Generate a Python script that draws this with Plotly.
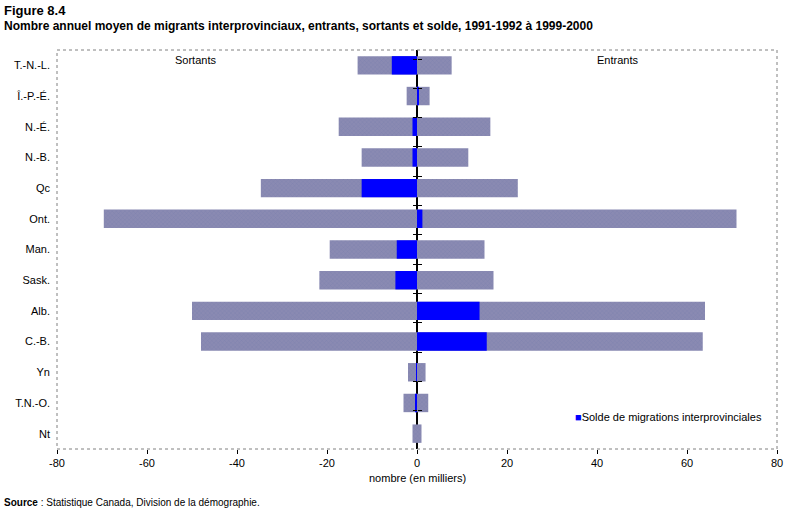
import plotly.graph_objects as go

# provinces, top to bottom as in the figure
provinces = ["T.-N.-L.", "Î.-P.-É.", "N.-É.", "N.-B.", "Qc", "Ont.", "Man.",
             "Sask.", "Alb.", "C.-B.", "Yn", "T.N.-O.", "Nt"]

# average annual migrants, thousands
sortants = [-13.2, -2.3, -17.4, -12.3, -34.7, -69.6, -19.4, -21.7, -50.0, -48.0, -2.0, -3.0, -1.0]
entrants = [7.7, 2.8, 16.3, 11.4, 22.4, 71.0, 15.0, 17.0, 64.0, 63.5, 1.9, 2.5, 1.0]
solde = [-5.6, 0.3, -1.0, -1.0, -12.3, 1.2, -4.5, -4.8, 13.9, 15.5, -0.1, -0.4, 0.0]

x_ticks = [-80, -60, -40, -20, 0, 20, 40, 60, 80]
x_tick_labels = ["-80", "-60", "-40", "-20", "0", "20", "40", "60", "80"]

FONT = "Liberation Sans, Arial, sans-serif"
grey_fill = "#8a8ab2"
pattern = dict(shape="x", size=3, solidity=0.25, fgcolor="#6f78a8", bgcolor=grey_fill)

fig = go.Figure()

for vals in [sortants, entrants]:
    fig.add_trace(go.Bar(
        y=provinces, x=vals, orientation="h", width=0.6,
        marker=dict(color=grey_fill, line_width=0, pattern=pattern),
        showlegend=False, hoverinfo="x+y",
    ))

fig.add_trace(go.Bar(
    y=provinces, x=solde, orientation="h", width=0.6,
    marker=dict(color="#0000ff", line_width=0),
    name="Solde de migrations interprovinciales", showlegend=False,
))

# invisible traces so the tick-mark axes at zero know the categories
for ax in ["y2", "y3"]:
    fig.add_trace(go.Scatter(
        y=provinces, x=[0] * len(provinces), yaxis=ax, mode="markers",
        marker=dict(opacity=0), showlegend=False, hoverinfo="skip",
    ))

cat_axis = dict(type="category", categoryorder="array", categoryarray=provinces,
                autorange="reversed")
tick_axis = dict(**cat_axis, overlaying="y", anchor="free", position=0.5,
                 showticklabels=False, ticks="outside", ticklen=4,
                 tickson="boundaries", tickcolor="black", showgrid=False,
                 showline=False, automargin=False)

fig.update_layout(
    width=787, height=511,
    margin=dict(l=57, r=10, t=50, b=62, autoexpand=False),
    paper_bgcolor="white", plot_bgcolor="white",
    barmode="overlay",
    showlegend=False,
    font=dict(family=FONT, size=11, color="black"),
    xaxis=dict(
        range=[-80, 80], tickvals=x_ticks, ticktext=x_tick_labels,
        ticks="outside", ticklen=4, tickcolor="black", showgrid=False,
        zeroline=True, zerolinecolor="black", zerolinewidth=1.5,
        showline=False, tickfont=dict(size=11), automargin=False,
    ),
    yaxis=dict(**cat_axis, showgrid=False, ticks="", showline=False,
               ticklabelstandoff=6, tickfont=dict(size=11), automargin=False),
    yaxis2=tick_axis,
    yaxis3=dict(tick_axis, side="right"),
    shapes=[dict(type="rect", xref="paper", yref="paper", x0=0, x1=1, y0=0, y1=1,
                 line=dict(color="#808080", width=1, dash="dot"))],
)

annotations = [
    dict(text="<b>Figure 8.4</b>", x=-0.0764, y=1.100, font=dict(size=13)),
    dict(text="<b>Nombre annuel moyen de migrants interprovinciaux, entrants, sortants et solde, 1991-1992 à 1999-2000</b>",
         x=-0.0764, y=1.060, font=dict(size=12)),
    dict(text="<b>Source</b> : Statistique Canada, Division de la démographie.",
         x=-0.0764, y=-0.135, font=dict(size=10)),
    dict(text="<span style='color:#0000ff'>■</span>Solde de migrations interprovinciales",
         x=0.717, y=0.080, font=dict(size=11)),
]
for a in annotations:
    fig.add_annotation(xref="paper", yref="paper", xanchor="left", yanchor="middle",
                       showarrow=False, **a)

centred = [
    dict(text="nombre (en milliers)", x=0.5, y=-0.073),
    dict(text="Sortants", x=0.193, y=0.975),
    dict(text="Entrants", x=0.779, y=0.975),
]
for a in centred:
    fig.add_annotation(xref="paper", yref="paper", xanchor="center", yanchor="middle",
                       showarrow=False, font=dict(size=11), **a)

fig.write_html("out.html", config={"displayModeBar": False},
               post_script="document.body.style.margin='0';")
